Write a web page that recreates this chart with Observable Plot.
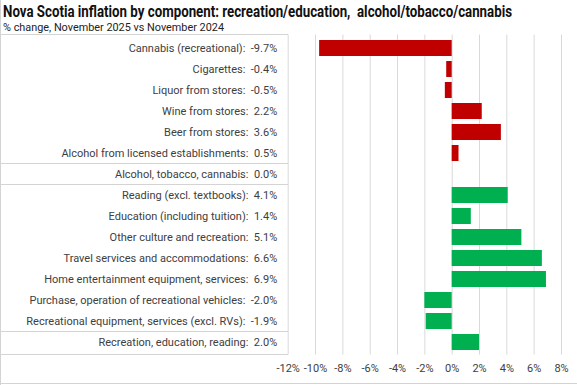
<!DOCTYPE html>
<html><head><meta charset="utf-8">
<script src="https://cdn.jsdelivr.net/npm/d3@7"></script>
<script src="https://cdn.jsdelivr.net/npm/@observablehq/plot@0.6"></script>
<style>
body{margin:0;background:#fff;}
#wrap{position:relative;width:577px;height:385px;overflow:hidden;font-family:"Roboto",sans-serif;}
#title{position:absolute;left:3px;top:3px;font-size:16px;line-height:18px;font-weight:bold;color:#111;white-space:nowrap;transform-origin:0 0;}
#sub{position:absolute;left:3px;top:20.5px;font-size:11.5px;line-height:13px;color:#222;white-space:nowrap;transform-origin:0 0;}
.ln{position:absolute;background:#d4d4d4;}
svg{position:absolute;left:0;top:0;}
</style></head>
<body><div id="wrap">
<div id="title">Nova Scotia inflation by component: recreation/education,&nbsp; alcohol/tobacco/cannabis</div>
<div id="sub">% change, November 2025 vs November 2024</div>
</div>
<script>
const categories = [
 "Cannabis (recreational)","Cigarettes","Liquor from stores","Wine from stores","Beer from stores",
 "Alcohol from licensed establishments","Alcohol, tobacco, cannabis","Reading (excl. textbooks)",
 "Education (including tuition)","Other culture and recreation","Travel services and accommodations",
 "Home entertainment equipment, services","Purchase, operation of recreational vehicles",
 "Recreational equipment, services (excl. RVs)","Recreation, education, reading"];
const values = [-9.7,-0.4,-0.5,2.2,3.6,0.5,0.0,4.1,1.4,5.1,6.6,6.9,-2.0,-1.9,2.0];
const groups = ["alc","alc","alc","alc","alc","alc","alc","rec","rec","rec","rec","rec","rec","rec","rec"];
const xTicks = [-12,-10,-8,-6,-4,-2,0,2,4,6,8];
const separatorsAfter = ["Alcohol from licensed establishments","Alcohol, tobacco, cannabis","Recreational equipment, services (excl. RVs)"];

const data = categories.map((c,i)=>({cat:c,value:values[i],group:groups[i],
  label:`${c}:  ${values[i].toFixed(1)}%`}));

const W=577,H=385,mL=287.7,mR=16,mT=34.5,mB=30.5;
const FONT='"Roboto",sans-serif';
const plot = Plot.plot({
  width:W,height:H,marginLeft:mL,marginRight:mR,marginTop:mT,marginBottom:mB,
  style:{fontFamily:FONT,fontSize:"11px",color:"#404040",background:"transparent"},
  x:{domain:[-12,8],tickFormat:d=>d+"%",label:null},
  y:{domain:categories,paddingInner:0.25,paddingOuter:0.125,axis:null},
  color:{domain:["alc","rec"],range:["#C00000","#00B050"]},
  marks:[
    Plot.gridX(xTicks,{stroke:"#d9d9d9",strokeOpacity:1,strokeWidth:1}),
    Plot.barX(data,{x:"value",y:"cat",fill:"group"}),
    Plot.text(data,{x:-12,y:"cat",text:"label",textAnchor:"end",dx:-11,fill:"#404040",fontSize:11}),
    Plot.axisX(xTicks,{tickFormat:d=>d+"%",tickSize:0,tickPadding:9,fontSize:11,fill:"#404040",label:null})
  ]
});
const wrap=document.getElementById("wrap");
wrap.insertBefore(plot, wrap.firstChild);
function fit(id,w){const el=document.getElementById(id);const r=el.getBoundingClientRect().width;el.style.transform=`scaleX(${w/r})`;}
fit("title",509);
fit("sub",221);
const ys=plot.scale("y");
const step=ys.step, bw=ys.bandwidth;
const yTop=mT, yBot=H-mB;
function hline(yy,x0,x1){const d=document.createElement("div");d.className="ln";d.style.left=x0+"px";d.style.top=(yy-0.5)+"px";d.style.width=(x1-x0)+"px";d.style.height="1px";wrap.appendChild(d);}
function vline(xx,a,b){const d=document.createElement("div");d.className="ln";d.style.left=(xx-0.5)+"px";d.style.top=a+"px";d.style.width="1px";d.style.height=(b-a)+"px";wrap.appendChild(d);}
hline(yTop,0,mL+0.5);
hline(yBot,0,mL+0.5);
separatorsAfter.forEach(c=>{hline(ys.apply(c)+bw+(step-bw)/2,0,mL+0.5);});
vline(0.5,0,H);
hline(H-1.5,0,W);
</script>
</body></html>
